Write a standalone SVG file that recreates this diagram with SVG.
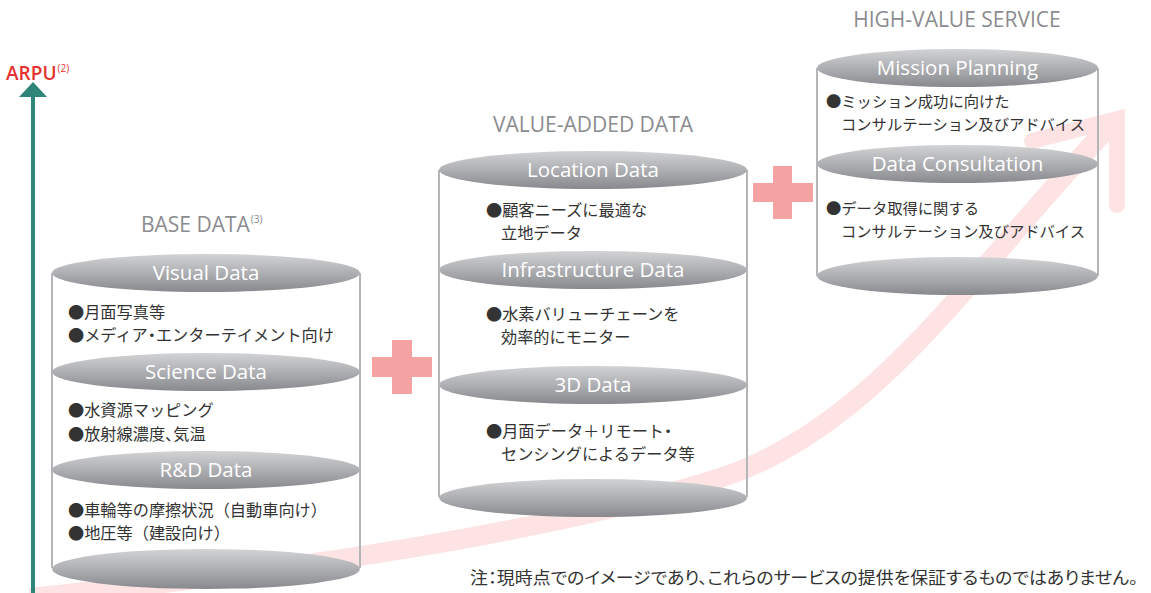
<svg xmlns="http://www.w3.org/2000/svg" width="1151" height="593" viewBox="0 0 1151 593">
<defs>
<linearGradient id="eg" x1="0" y1="0" x2="0" y2="1">
<stop offset="0" stop-color="#d2d3d5"/>
<stop offset="0.5" stop-color="#aeafb2"/>
<stop offset="1" stop-color="#88898d"/>
</linearGradient>
<style>
.ell{fill:url(#eg);}
.side{stroke:#b4b5b8;stroke-width:2;fill:none;}
.lbl{font-family:"Open Sans","Noto Sans",sans-serif;font-size:20.5px;fill:#ffffff;text-anchor:middle;}
.hd{font-family:"Open Sans","Noto Sans",sans-serif;font-size:21px;fill:#8b8c8f;}
.sup{font-size:10px;}
.jp{font-family:"Noto Sans CJK JP","Noto Sans",sans-serif;font-size:16.2px;fill:#333333;}
.jp3{font-family:"Noto Sans CJK JP","Noto Sans",sans-serif;font-size:15.3px;fill:#333333;}
.pt{font-feature-settings:"palt";}
.plus{fill:#f5a3a2;}
</style>
</defs>
<rect width="1151" height="593" fill="#ffffff"/>

<g id="growth-arrow">
<path d="M30,598 C300,570 560,530 720,478 C880,426 980,260 1108,128" fill="none" stroke="#fde3e3" stroke-width="20"/>
<path d="M1032,141 L1117,119 L1117,205" fill="none" stroke="#fde3e3" stroke-width="16" stroke-linecap="round" stroke-linejoin="miter"/>
</g>

<g id="arpu-axis">
<line x1="33" y1="95" x2="33" y2="593" stroke="#2f8577" stroke-width="4"/>
<polygon points="19,97 47,97 33,82" fill="#2f8577"/>
<text x="6" y="80" font-family="'Open Sans','Noto Sans',sans-serif" font-size="19" font-weight="600" fill="#e8312e">ARPU<tspan dy="-8" font-size="10" font-weight="400" dx="1">(2)</tspan></text>
</g>

<g id="base-data">
<text class="hd" x="141" y="232">BASE DATA<tspan class="sup" dy="-9" dx="1">(3)</tspan></text>
<line class="side" x1="52" y1="273" x2="52" y2="568"/>
<line class="side" x1="360" y1="273" x2="360" y2="568"/>
<ellipse class="ell" cx="206" cy="273" rx="154" ry="19"/>
<text class="lbl" x="206" y="280">Visual Data</text>
<text class="jp" x="68" y="318">●月面写真等</text>
<text class="jp" x="68" y="341">●メディア<tspan class="pt">・</tspan>エンターテイメント向け</text>
<ellipse class="ell" cx="206" cy="372" rx="154" ry="19"/>
<text class="lbl" x="206" y="379">Science Data</text>
<text class="jp" x="68" y="416">●水資源マッピング</text>
<text class="jp" x="68" y="440">●放射線濃度<tspan class="pt">、</tspan>気温</text>
<ellipse class="ell" cx="206" cy="470" rx="154" ry="19"/>
<text class="lbl" x="206" y="477">R&amp;D Data</text>
<text class="jp" x="68" y="516">●車輪等の摩擦状況（自動車向け）</text>
<text class="jp" x="68" y="539">●地圧等（建設向け）</text>
<ellipse class="ell" cx="206" cy="569" rx="154" ry="20"/>
</g>

<g id="plus-1">
<rect class="plus" x="392" y="340" width="20" height="54"/>
<rect class="plus" x="372" y="357" width="60" height="20"/>
</g>

<g id="value-added-data">
<text class="hd" x="593" y="132" text-anchor="middle">VALUE-ADDED DATA</text>
<line class="side" x1="439" y1="170" x2="439" y2="497"/>
<line class="side" x1="747" y1="170" x2="747" y2="497"/>
<ellipse class="ell" cx="593" cy="170" rx="154" ry="19"/>
<text class="lbl" x="593" y="177">Location Data</text>
<text class="jp" x="486" y="216">●顧客ニーズに最適な</text>
<text class="jp" x="501" y="239">立地データ</text>
<ellipse class="ell" cx="593" cy="270" rx="154" ry="19"/>
<text class="lbl" x="593" y="277">Infrastructure Data</text>
<text class="jp" x="486" y="320">●水素バリューチェーンを</text>
<text class="jp" x="501" y="343">効率的にモニター</text>
<ellipse class="ell" cx="593" cy="385" rx="154" ry="19"/>
<text class="lbl" x="593" y="392">3D Data</text>
<text class="jp" x="486" y="437">●月面データ＋リモート<tspan class="pt">・</tspan></text>
<text class="jp" x="501" y="460">センシングによるデータ等</text>
<ellipse class="ell" cx="593" cy="498" rx="154" ry="19"/>
</g>

<g id="plus-2">
<rect class="plus" x="773" y="166" width="19" height="53"/>
<rect class="plus" x="753" y="183" width="60" height="19"/>
</g>

<g id="high-value-service">
<text class="hd" x="957" y="27" text-anchor="middle">HIGH-VALUE SERVICE</text>
<line class="side" x1="817" y1="68" x2="817" y2="276"/>
<line class="side" x1="1098" y1="68" x2="1098" y2="276"/>
<ellipse class="ell" cx="957.5" cy="68" rx="140.5" ry="19"/>
<text class="lbl" x="957.5" y="75">Mission Planning</text>
<text class="jp3" x="826" y="107">●ミッション成功に向けた</text>
<text class="jp3" x="841" y="130">コンサルテーション及びアドバイス</text>
<ellipse class="ell" cx="957.5" cy="164" rx="140.5" ry="19"/>
<text class="lbl" x="957.5" y="171">Data Consultation</text>
<text class="jp3" x="826" y="214">●データ取得に関する</text>
<text class="jp3" x="841" y="237">コンサルテーション及びアドバイス</text>
<ellipse class="ell" cx="957.5" cy="276" rx="140.5" ry="19"/>
</g>

<text x="470" y="584" font-family="'Noto Sans CJK JP','Noto Sans',sans-serif" font-size="16.5" fill="#333333" style="font-feature-settings:'palt'" textLength="668" lengthAdjust="spacingAndGlyphs">注：現時点でのイメージであり、これらのサービスの提供を保証するものではありません。</text>
</svg>
